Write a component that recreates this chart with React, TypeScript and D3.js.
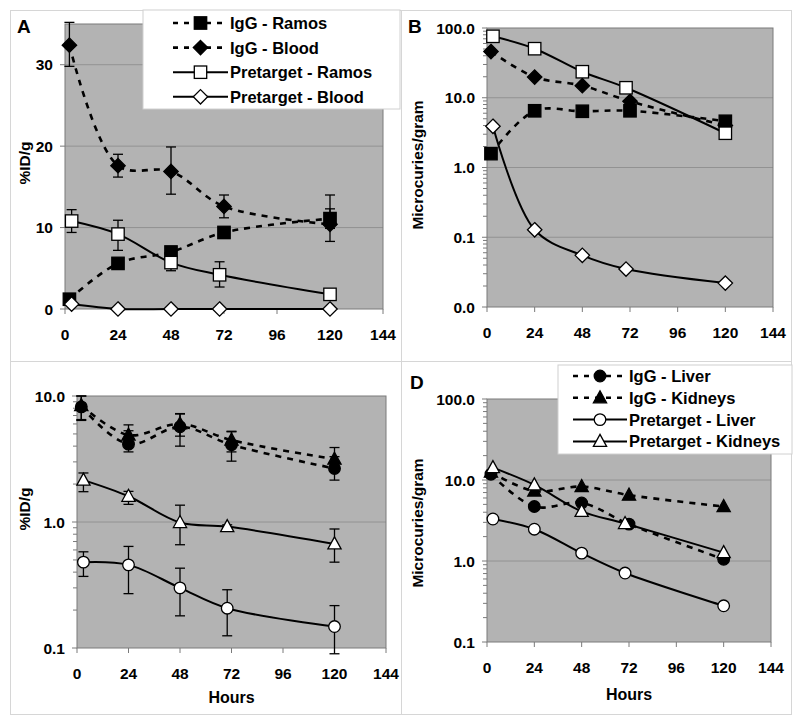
import React from 'react';
import * as d3 from 'd3';

// sampling times (hours)
const hoursIgG = [2, 24, 48, 72, 120];
const hoursPre = [3, 24, 48, 70, 120];
const xTicks = [0, 24, 48, 72, 96, 120, 144];

// Panel A: %ID/g, tumour & blood
const aIgGRamos = [1.2, 5.6, 7.0, 9.4, 11.1];
const aIgGRamosHi = [null, null, null, null, 12.3];
const aIgGRamosLo = [null, null, null, null, 9.9];
const aIgGBlood = [32.4, 17.6, 16.9, 12.6, 10.4];
const aIgGBloodHi = [35.2, 19.0, 19.9, 14.0, 14.0];
const aIgGBloodLo = [29.8, 16.2, 14.1, 11.2, 8.3];
const aPreRamos = [10.8, 9.2, 5.7, 4.2, 1.8];
const aPreRamosHi = [12.2, 10.9, 6.4, 5.8, null];
const aPreRamosLo = [9.4, 7.2, 4.7, 2.7, null];
const aPreBlood = [0.6, 0, 0, 0, 0];

// Panel B: microcuries/gram, tumour & blood
const bIgGRamos = [1.58, 6.5, 6.4, 6.5, 4.6];
const bIgGBlood = [46, 19.8, 14.9, 8.9, 4.0];
const bPreRamos = [76, 50.5, 23.6, 13.9, 3.1];
const bPreBlood = [3.9, 0.128, 0.055, 0.035, 0.022];

// Panel C: %ID/g, liver & kidneys
const cIgGLiver = [8.2, 4.15, 5.7, 4.1, 2.66];
const cIgGLiverHi = [10.0, 5.3, 7.2, 5.2, 3.3];
const cIgGLiverLo = [6.4, 3.6, 4.0, 3.04, 2.15];
const cIgGKidneys = [8.4, 4.9, 6.0, 4.47, 3.15];
const cIgGKidneysHi = [10.0, 5.9, 7.25, 5.25, 3.9];
const cIgGKidneysLo = [6.5, 4.1, 4.8, 3.6, 2.6];
const cPreLiver = [0.48, 0.457, 0.3, 0.207, 0.148];
const cPreLiverHi = [0.58, 0.64, 0.43, 0.29, 0.217];
const cPreLiverLo = [0.37, 0.27, 0.18, 0.125, 0.09];
const cPreKidneys = [2.15, 1.6, 0.99, 0.92, 0.67];
const cPreKidneysHi = [2.45, 1.75, 1.36, 0.95, 0.88];
const cPreKidneysLo = [1.74, 1.38, 0.66, 0.9, 0.48];

// Panel D: microcuries/gram, liver & kidneys
const dIgGLiver = [11.8, 4.7, 5.2, 2.85, 1.05];
const dIgGKidneys = [12.5, 7.3, 8.3, 6.5, 4.7];
const dPreLiver = [3.3, 2.47, 1.25, 0.71, 0.28];
const dPreKidneys = [14.2, 8.7, 4.1, 2.9, 1.27];

const FONT = '"Liberation Sans", Arial, sans-serif';
const PLOT_BG = '#b3b3b3';

type Shape = 'square' | 'diamond' | 'circle' | 'triangle';
type Series = {
  name: string;
  x: number[];
  y: number[];
  hi?: (number | null)[];
  lo?: (number | null)[];
  dashed: boolean;
  shape: Shape;
  filled: boolean;
};
type Rect = { l: number; t: number; r: number; b: number };

const Marker: React.FC<{ shape: Shape; filled: boolean; cx: number; cy: number }> = ({ shape, filled, cx, cy }) => {
  const fill = filled ? '#000' : '#fff';
  const common = { fill, stroke: '#000', strokeWidth: 1.3 };
  if (shape === 'square') return <rect x={cx - 6.2} y={cy - 6.2} width={12.4} height={12.4} {...common} />;
  if (shape === 'circle') return <circle cx={cx} cy={cy} r={5.8} {...common} />;
  if (shape === 'diamond') {
    const h = 7.2;
    return <path d={`M${cx},${cy - h}L${cx + h},${cy}L${cx},${cy + h}L${cx - h},${cy}Z`} {...common} />;
  }
  const w = 6.6;
  return <path d={`M${cx},${cy - 7}L${cx + w},${cy + 5}L${cx - w},${cy + 5}Z`} {...common} />;
};

interface PanelProps {
  frame: Rect;
  plot: Rect;
  log: boolean;
  yDomain: [number, number];
  yMajor: number[];
  yFmt: (v: number) => string;
  yTitle: string;
  yTitleX: number;
  yTitleY: number;
  letter?: string;
  letterX?: number;
  letterY?: number;
  hoursY?: number;
  series: Series[];
  legend?: { box: Rect; y0: number; dy: number; x0: number; x1: number };
}

const Panel: React.FC<PanelProps> = (p) => {
  const { plot } = p;
  const x = d3.scaleLinear().domain([0, 144]).range([plot.l, plot.r]);
  const y = p.log
    ? d3.scaleLog().domain(p.yDomain).range([plot.b, plot.t])
    : d3.scaleLinear().domain(p.yDomain).range([plot.b, plot.t]);
  const minor = p.log ? (y as d3.ScaleLogarithmic<number, number>).ticks().filter(v => !p.yMajor.some(m => Math.abs(m - v) / m < 1e-6)) : [];

  return (
    <g>
      <rect x={p.frame.l + 0.5} y={p.frame.t + 0.5} width={p.frame.r - p.frame.l} height={p.frame.b - p.frame.t} fill="#fff" stroke="#d6d6d6" />
      <rect x={plot.l} y={plot.t} width={plot.r - plot.l} height={plot.b - plot.t} fill={PLOT_BG} />
      {p.yMajor.filter(v => y(v) > plot.t + 1 && y(v) < plot.b - 1).map(v => (
        <line key={`g${v}`} x1={plot.l} x2={plot.r} y1={y(v)} y2={y(v)} stroke="#929292" strokeWidth={1} />
      ))}
      <rect x={plot.l} y={plot.t} width={plot.r - plot.l} height={plot.b - plot.t} fill="none" stroke="#7a7a7a" strokeWidth={1} />
      {/* y axis */}
      {p.yMajor.map(v => (
        <g key={`y${v}`}>
          <line x1={plot.l - 5} x2={plot.l} y1={y(v)} y2={y(v)} stroke="#7a7a7a" />
          <text x={plot.l - 12} y={y(v)} dy="0.36em" textAnchor="end" fontFamily={FONT} fontWeight="bold" fontSize={15.5}>
            {p.yFmt(v)}
          </text>
        </g>
      ))}
      {minor.map(v => (
        <line key={`m${v}`} x1={plot.l - 4} x2={plot.l} y1={y(v)} y2={y(v)} stroke="#7a7a7a" />
      ))}
      {/* x axis */}
      {xTicks.map(v => (
        <g key={`x${v}`}>
          <line x1={x(v)} x2={x(v)} y1={plot.b} y2={plot.b + 5} stroke="#7a7a7a" />
          <text x={x(v)} y={plot.b + 31} textAnchor="middle" fontFamily={FONT} fontWeight="bold" fontSize={15.5}>
            {v}
          </text>
        </g>
      ))}
      <text transform={`translate(${p.yTitleX},${p.yTitleY}) rotate(-90)`} textAnchor="middle" fontFamily={FONT} fontWeight="bold" fontSize={15.5}>
        {p.yTitle}
      </text>
      {p.hoursY !== undefined && (
        <text x={(plot.l + plot.r) / 2} y={p.hoursY} textAnchor="middle" fontFamily={FONT} fontWeight="bold" fontSize={16}>
          Hours
        </text>
      )}
      {p.letter && (
        <text x={p.letterX} y={p.letterY} fontFamily={FONT} fontWeight="bold" fontSize={19}>
          {p.letter}
        </text>
      )}
      {/* series */}
      {p.series.map(s => {
        const line = d3.line<number>()
          .x((_, i) => x(s.x[i]))
          .y(d => y(d))
          .curve(d3.curveCatmullRom.alpha(0.5));
        return (
          <g key={s.name}>
            <path d={line(s.y) || ''} fill="none" stroke="#000" strokeWidth={s.dashed ? 2.6 : 2} strokeDasharray={s.dashed ? '6,6' : undefined} />
            {s.y.map((v, i) => {
              const hi = s.hi ? s.hi[i] : null;
              const lo = s.lo ? s.lo[i] : null;
              const cx = x(s.x[i]);
              return (
                <g key={i}>
                  {hi !== null && (
                    <g stroke="#000" strokeWidth={1.3}>
                      <line x1={cx} x2={cx} y1={y(v)} y2={y(hi)} />
                      <line x1={cx - 5} x2={cx + 5} y1={y(hi)} y2={y(hi)} />
                    </g>
                  )}
                  {lo !== null && (
                    <g stroke="#000" strokeWidth={1.3}>
                      <line x1={cx} x2={cx} y1={y(v)} y2={y(lo)} />
                      <line x1={cx - 5} x2={cx + 5} y1={y(lo)} y2={y(lo)} />
                    </g>
                  )}
                </g>
              );
            })}
            {s.y.map((v, i) => (
              <Marker key={`k${i}`} shape={s.shape} filled={s.filled} cx={x(s.x[i])} cy={y(v)} />
            ))}
          </g>
        );
      })}
      {p.legend && (
        <g>
          <rect x={p.legend.box.l} y={p.legend.box.t} width={p.legend.box.r - p.legend.box.l} height={p.legend.box.b - p.legend.box.t} fill="#fff" stroke="#d0d0d0" />
          {p.series.map((s, i) => {
            const ly = p.legend!.y0 + i * p.legend!.dy;
            const { x0, x1 } = p.legend!;
            return (
              <g key={`l${s.name}`}>
                <line x1={x0} x2={x1} y1={ly} y2={ly} stroke="#000" strokeWidth={s.dashed ? 2.6 : 2} strokeDasharray={s.dashed ? '5,6' : undefined} />
                <Marker shape={s.shape} filled={s.filled} cx={(x0 + x1) / 2} cy={ly} />
                <text x={x1 + 2} y={ly} dy="0.36em" fontFamily={FONT} fontWeight="bold" fontSize={16.5}>
                  {s.name}
                </text>
              </g>
            );
          })}
        </g>
      )}
    </g>
  );
};

const fmt1 = d3.format('.1f');
const fmt0 = d3.format('d');

export default function App() {
  const seriesA: Series[] = [
    { name: 'IgG - Ramos', x: hoursIgG, y: aIgGRamos, hi: aIgGRamosHi, lo: aIgGRamosLo, dashed: true, shape: 'square', filled: true },
    { name: 'IgG - Blood', x: hoursIgG, y: aIgGBlood, hi: aIgGBloodHi, lo: aIgGBloodLo, dashed: true, shape: 'diamond', filled: true },
    { name: 'Pretarget - Ramos', x: hoursPre, y: aPreRamos, hi: aPreRamosHi, lo: aPreRamosLo, dashed: false, shape: 'square', filled: false },
    { name: 'Pretarget - Blood', x: hoursPre, y: aPreBlood, dashed: false, shape: 'diamond', filled: false },
  ];
  const seriesB: Series[] = [
    { name: 'IgG - Ramos', x: hoursIgG, y: bIgGRamos, dashed: true, shape: 'square', filled: true },
    { name: 'IgG - Blood', x: hoursIgG, y: bIgGBlood, dashed: true, shape: 'diamond', filled: true },
    { name: 'Pretarget - Ramos', x: hoursPre, y: bPreRamos, dashed: false, shape: 'square', filled: false },
    { name: 'Pretarget - Blood', x: hoursPre, y: bPreBlood, dashed: false, shape: 'diamond', filled: false },
  ];
  const seriesC: Series[] = [
    { name: 'IgG - Liver', x: hoursIgG, y: cIgGLiver, hi: cIgGLiverHi, lo: cIgGLiverLo, dashed: true, shape: 'circle', filled: true },
    { name: 'IgG - Kidneys', x: hoursIgG, y: cIgGKidneys, hi: cIgGKidneysHi, lo: cIgGKidneysLo, dashed: true, shape: 'triangle', filled: true },
    { name: 'Pretarget - Liver', x: hoursPre, y: cPreLiver, hi: cPreLiverHi, lo: cPreLiverLo, dashed: false, shape: 'circle', filled: false },
    { name: 'Pretarget - Kidneys', x: hoursPre, y: cPreKidneys, hi: cPreKidneysHi, lo: cPreKidneysLo, dashed: false, shape: 'triangle', filled: false },
  ];
  const seriesD: Series[] = [
    { name: 'IgG - Liver', x: hoursIgG, y: dIgGLiver, dashed: true, shape: 'circle', filled: true },
    { name: 'IgG - Kidneys', x: hoursIgG, y: dIgGKidneys, dashed: true, shape: 'triangle', filled: true },
    { name: 'Pretarget - Liver', x: hoursPre, y: dPreLiver, dashed: false, shape: 'circle', filled: false },
    { name: 'Pretarget - Kidneys', x: hoursPre, y: dPreKidneys, dashed: false, shape: 'triangle', filled: false },
  ];

  return (
    <div style={{ position: 'absolute', left: 0, top: 0 }}>
      <svg width={800} height={725} style={{ display: 'block', background: '#fff' }}>
        <Panel
          frame={{ l: 10, t: 10, r: 401, b: 361 }}
          plot={{ l: 65, t: 24, r: 383, b: 309 }}
          log={false}
          yDomain={[0, 35]}
          yMajor={[0, 10, 20, 30]}
          yFmt={fmt0}
          yTitle="%ID/g"
          yTitleX={30}
          yTitleY={163}
          letter="A"
          letterX={17}
          letterY={33}
          series={seriesA}
          legend={{ box: { l: 143, t: 10, r: 400, b: 109 }, y0: 23, dy: 24.6, x0: 173, x1: 228 }}
        />
        <Panel
          frame={{ l: 401, t: 10, r: 791, b: 361 }}
          plot={{ l: 487, t: 28, r: 773, b: 307 }}
          log={true}
          yDomain={[0.01, 100]}
          yMajor={[0.01, 0.1, 1, 10, 100]}
          yFmt={fmt1}
          yTitle="Microcuries/gram"
          yTitleX={423}
          yTitleY={165}
          letter="B"
          letterX={408}
          letterY={33}
          series={seriesB}
        />
        <Panel
          frame={{ l: 10, t: 361, r: 401, b: 714 }}
          plot={{ l: 77, t: 396, r: 386, b: 648 }}
          log={true}
          yDomain={[0.1, 10]}
          yMajor={[0.1, 1, 10]}
          yFmt={fmt1}
          yTitle="%ID/g"
          yTitleX={30}
          yTitleY={509}
          hoursY={703}
          series={seriesC}
        />
        <Panel
          frame={{ l: 401, t: 361, r: 791, b: 714 }}
          plot={{ l: 487, t: 399, r: 771, b: 642 }}
          log={true}
          yDomain={[0.1, 100]}
          yMajor={[0.1, 1, 10, 100]}
          yFmt={fmt1}
          yTitle="Microcuries/gram"
          yTitleX={423}
          yTitleY={523}
          letter="D"
          letterX={410}
          letterY={389}
          hoursY={700}
          series={seriesD}
          legend={{ box: { l: 558, t: 365, r: 792, b: 454 }, y0: 376, dy: 21.8, x0: 573, x1: 627 }}
        />
      </svg>
    </div>
  );
}
